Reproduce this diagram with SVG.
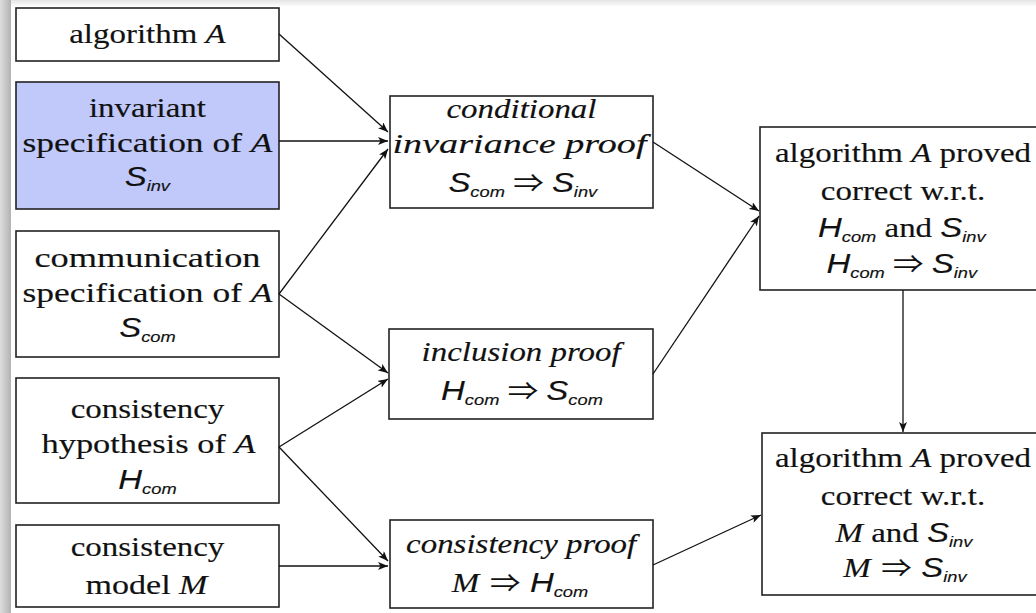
<svg xmlns="http://www.w3.org/2000/svg" width="1036" height="613" viewBox="0 0 1036 613">
<defs>
<linearGradient id="gl" x1="0" y1="0" x2="1" y2="0">
<stop offset="0" stop-color="#dedede"/><stop offset="1" stop-color="#b2b2b2"/>
</linearGradient>
<linearGradient id="gt" x1="0" y1="0" x2="0" y2="1">
<stop offset="0" stop-color="#e4e4e4"/><stop offset="1" stop-color="#fbfbfb"/>
</linearGradient>
<marker id="ah" viewBox="0 0 10 8" refX="10" refY="4" markerWidth="10" markerHeight="8" markerUnits="userSpaceOnUse" orient="auto">
<path d="M0,0 L10,4 L0,8 L2.5,4 Z" fill="#111"/>
</marker>
</defs>
<style>
.box{fill:#fff;stroke:#222;stroke-width:1.6}
.blue{fill:#c0c9fa}
.t,.w{font-family:"Liberation Serif",serif;font-size:27px;fill:#111;stroke:#111;stroke-width:0.15;text-anchor:middle}
.t{transform-box:fill-box;transform-origin:center;transform:scaleX(1.22)}
.it{font-style:italic}
.ms{font-family:"Liberation Sans",sans-serif;font-style:italic}
.sub{font-family:"Liberation Sans",sans-serif;font-style:italic;font-size:15px}
.ar{font-family:"Noto Sans CJK JP","DejaVu Sans",sans-serif;font-size:25px;stroke-width:0}
.c{stroke:#111;stroke-width:1.3;fill:none;marker-end:url(#ah)}
</style>
<rect x="0" y="0" width="1036" height="613" fill="#fff"/>
<rect x="0" y="0" width="1036" height="6" fill="url(#gt)"/>
<rect x="0" y="0" width="11" height="613" fill="url(#gl)"/>

<g id="n-alg">
<rect class="box" x="16" y="8" width="263" height="53"/>
<text class="t" x="147.5" y="43">algorithm <tspan class="it">A</tspan></text>
</g>
<g id="n-inv">
<rect class="box blue" x="16" y="82" width="263" height="127"/>
<text class="t" x="147.5" y="117">invariant</text>
<text class="w" x="147.5" y="152" textLength="250" lengthAdjust="spacingAndGlyphs">specification of <tspan class="it">A</tspan></text>
<text class="t" x="147.5" y="186"><tspan class="ms">S</tspan><tspan class="sub" dy="5">inv</tspan></text>
</g>
<g id="n-com">
<rect class="box" x="16" y="231" width="263" height="126"/>
<text class="w" x="147.5" y="267" textLength="226" lengthAdjust="spacingAndGlyphs">communication</text>
<text class="w" x="147.5" y="302" textLength="250" lengthAdjust="spacingAndGlyphs">specification of <tspan class="it">A</tspan></text>
<text class="t" x="147.5" y="337"><tspan class="ms">S</tspan><tspan class="sub" dy="5">com</tspan></text>
</g>
<g id="n-hyp">
<rect class="box" x="16" y="378" width="263" height="125"/>
<text class="t" x="147.5" y="418">consistency</text>
<text class="w" x="148.5" y="453" textLength="214" lengthAdjust="spacingAndGlyphs">hypothesis of <tspan class="it">A</tspan></text>
<text class="t" x="147.5" y="489"><tspan class="ms">H</tspan><tspan class="sub" dy="5">com</tspan></text>
</g>
<g id="n-model">
<rect class="box" x="16" y="525" width="263" height="82"/>
<text class="t" x="147.5" y="556">consistency</text>
<text class="w" x="146.5" y="594" textLength="122" lengthAdjust="spacingAndGlyphs">model <tspan class="it">M</tspan></text>
</g>

<g id="n-cip">
<rect class="box" x="390" y="96" width="263" height="112"/>
<text class="t it" x="521.5" y="118">conditional</text>
<text class="w it" x="519.5" y="153" textLength="254" lengthAdjust="spacingAndGlyphs">invariance proof</text>
<text class="t" x="523" y="192"><tspan class="ms">S</tspan><tspan class="sub" dy="5">com</tspan><tspan dy="-5"> </tspan><tspan class="ar">⇒</tspan><tspan> </tspan><tspan class="ms">S</tspan><tspan class="sub" dy="5">inv</tspan></text>
</g>
<g id="n-incl">
<rect class="box" x="389" y="329" width="264" height="90"/>
<text class="t it" x="521.5" y="361">inclusion proof</text>
<text class="t" x="522" y="400"><tspan class="ms">H</tspan><tspan class="sub" dy="5">com</tspan><tspan dy="-5"> </tspan><tspan class="ar">⇒</tspan><tspan> </tspan><tspan class="ms">S</tspan><tspan class="sub" dy="5">com</tspan></text>
</g>
<g id="n-cons">
<rect class="box" x="390" y="520" width="263" height="88"/>
<text class="t it" x="521.5" y="553">consistency proof</text>
<text class="t" x="520" y="592"><tspan class="it">M</tspan><tspan dx="2"> </tspan><tspan class="ar">⇒</tspan><tspan dx="1"> </tspan><tspan class="ms">H</tspan><tspan class="sub" dy="5">com</tspan></text>
</g>

<g id="n-res1">
<rect class="box" x="760" y="127" width="290" height="163"/>
<text class="t" x="903" y="162">algorithm <tspan class="it">A</tspan> proved</text>
<text class="t" x="903" y="200">correct w.r.t.</text>
<text class="t" x="902" y="237"><tspan class="ms">H</tspan><tspan class="sub" dy="5">com</tspan><tspan dy="-5"> and </tspan><tspan class="ms">S</tspan><tspan class="sub" dy="5">inv</tspan></text>
<text class="t" x="902" y="273"><tspan class="ms">H</tspan><tspan class="sub" dy="5">com</tspan><tspan dy="-5"> </tspan><tspan class="ar">⇒</tspan><tspan> </tspan><tspan class="ms">S</tspan><tspan class="sub" dy="5">inv</tspan></text>
</g>
<g id="n-res2">
<rect class="box" x="762" y="433" width="290" height="162"/>
<text class="t" x="903" y="467">algorithm <tspan class="it">A</tspan> proved</text>
<text class="t" x="903" y="505">correct w.r.t.</text>
<text class="t" x="904" y="542"><tspan class="it">M</tspan> and <tspan class="ms">S</tspan><tspan class="sub" dy="5">inv</tspan></text>
<text class="t" x="905" y="577"><tspan class="it">M</tspan><tspan dx="2"> </tspan><tspan class="ar">⇒</tspan><tspan dx="1"> </tspan><tspan class="ms">S</tspan><tspan class="sub" dy="5">inv</tspan></text>
</g>

<g id="connectors">
<line class="c" x1="279" y1="34" x2="388" y2="132"/>
<line class="c" x1="279" y1="141" x2="388" y2="141"/>
<line class="c" x1="279" y1="294" x2="388" y2="149"/>
<line class="c" x1="279" y1="294" x2="388" y2="373"/>
<line class="c" x1="279" y1="447" x2="388" y2="379"/>
<line class="c" x1="279" y1="447" x2="388" y2="561"/>
<line class="c" x1="279" y1="566" x2="388" y2="566"/>
<line class="c" x1="653" y1="142" x2="759" y2="211"/>
<line class="c" x1="653" y1="374" x2="759" y2="216"/>
<line class="c" x1="653" y1="565" x2="761" y2="515"/>
<line class="c" x1="903" y1="290" x2="903" y2="432"/>
</g>
</svg>
